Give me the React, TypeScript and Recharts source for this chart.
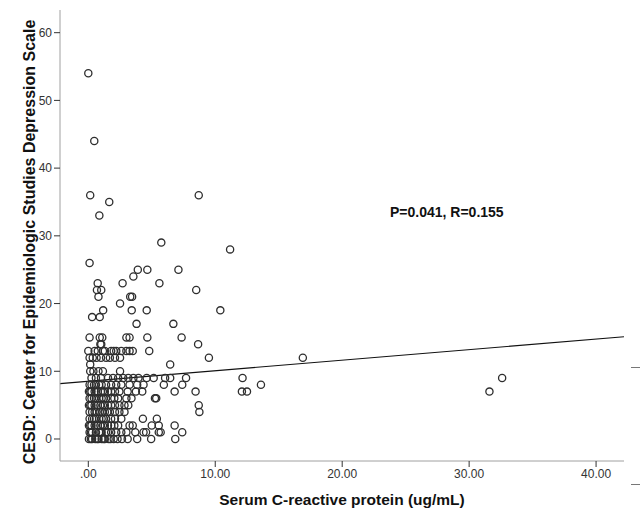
import React from "react";
import { ScatterChart, Scatter, XAxis, YAxis, ReferenceLine } from "recharts";

// CESD score (y) and the serum CRP values (x) of the subjects with that score
const cesdScores = [0, 1, 2, 3, 4, 5, 6, 7, 8, 9, 10, 11, 12, 13, 14, 15, 17, 18, 19, 20, 21, 22, 23, 24, 25, 26, 28, 29, 33, 35, 36, 44, 54];
const crpByScore = [
  [0.05, 0.2, 0.3, 0.55, 0.7, 0.8, 1.05, 1.2, 1.3, 1.6, 1.75, 2.0, 2.3, 2.65, 3.1, 3.85, 4.95, 6.85],
  [0.1, 0.2, 0.3, 0.6, 0.85, 0.95, 1.05, 1.4, 1.55, 1.8, 2.2, 2.6, 3.0, 3.7, 4.35, 4.55, 5.55, 5.7, 7.4],
  [0.05, 0.15, 0.25, 0.5, 0.75, 0.95, 1.15, 1.3, 1.55, 1.8, 2.05, 2.35, 3.25, 3.5, 5.0, 5.55, 6.8],
  [0.1, 0.3, 0.45, 0.6, 0.85, 1.05, 1.2, 1.4, 1.8, 2.1, 2.6, 4.3, 5.4],
  [0.1, 0.3, 0.5, 0.65, 0.9, 1.1, 1.3, 1.5, 1.7, 2.1, 2.45, 2.85, 8.75],
  [0.05, 0.15, 0.25, 0.5, 0.75, 0.95, 1.15, 1.3, 1.55, 1.8, 2.1, 2.45, 2.85, 3.15, 8.7],
  [0.1, 0.25, 0.45, 0.6, 0.85, 1.05, 1.2, 1.4, 1.8, 2.05, 2.35, 3.0, 3.4, 5.25, 5.35],
  [0.05, 0.15, 0.25, 0.5, 0.75, 1.0, 1.15, 1.3, 1.55, 1.8, 2.1, 2.45, 3.1, 3.75, 4.25, 6.8, 8.45, 12.1, 12.5, 31.6],
  [0.1, 0.25, 0.45, 0.6, 0.85, 1.05, 1.4, 1.8, 2.2, 2.6, 3.25, 3.85, 4.35, 5.95, 7.4, 13.6],
  [0.25, 0.6, 1.0, 1.55, 1.95, 2.35, 2.75, 3.15, 3.55, 3.95, 4.6, 5.15, 6.05, 6.45, 7.7, 12.15, 32.6],
  [0.15, 0.4, 0.8, 1.15, 2.5],
  [0.15, 6.45],
  [0.1, 0.35, 0.65, 1.0, 1.4, 1.7, 2.1, 2.5, 9.5, 16.9],
  [0.0, 0.5, 0.75, 1.15, 1.3, 1.8, 2.0, 2.2, 2.6, 3.0, 3.25, 3.5, 4.8],
  [0.95, 1.02, 8.65],
  [0.1, 0.9, 1.1, 3.0, 3.25, 4.65, 7.35],
  [3.8, 6.7],
  [0.3, 0.9],
  [1.17, 3.42, 4.6, 10.4],
  [2.5],
  [0.8, 3.3, 3.45],
  [0.68, 1.02, 8.5],
  [0.74, 2.7, 5.6],
  [3.55],
  [3.9, 4.65, 7.1],
  [0.1],
  [11.17],
  [5.75],
  [0.87],
  [1.65],
  [0.15, 8.7],
  [0.47],
  [0.0],
];

const xTicks = [0, 10, 20, 30, 40];
const yTicks = [0, 10, 20, 30, 40, 50, 60];
const xDomain = [-2.23, 42.2];
const yDomain = [-3.25, 63.35];
const fitIntercept = 8.52;
const fitSlope = 0.156;
const statsText = "P=0.041, R=0.155";
const xTitle = "Serum C-reactive protein (ug/mL)";
const yTitle = "CESD: Center for Epidemiologic Studies Depression Scale";

const points = cesdScores.flatMap((score, i) =>
  crpByScore[i].map((crp) => ({ crp, cesd: score }))
);

const FONT = "'Liberation Sans', Arial, sans-serif";

const OpenCircle = (props: any) => {
  const { cx, cy } = props;
  if (cx == null || cy == null) return <g />;
  return <circle cx={cx} cy={cy} r={3.6} fill="none" stroke="#2e2e2e" strokeWidth={1.3} />;
};

const fmtX = (v: number) => (v === 0 ? ".00" : v.toFixed(2));

export default function App() {
  return (
    <div style={{ position: "absolute", left: 0, top: 0, width: 644, height: 510, background: "#fff", fontFamily: FONT }}>
      <ScatterChart
        width={644}
        height={510}
        margin={{ top: 10, right: 20, left: 0, bottom: 0 }}
      >
        <XAxis
          type="number"
          dataKey="crp"
          domain={xDomain}
          ticks={xTicks}
          tickFormatter={fmtX}
          height={49}
          tickSize={6}
          tickMargin={2}
          axisLine={{ stroke: "#a0a0a0", strokeWidth: 1 }}
          tickLine={{ stroke: "#333", strokeWidth: 1 }}
          tick={{ fill: "#333", fontSize: 12, fontFamily: FONT }}
          allowDataOverflow
          label={(p: any) => {
            const vb = p.viewBox;
            return (
              <text
                x={vb.x + vb.width / 2}
                y={505}
                textAnchor="middle"
                fontFamily={FONT}
                fontSize={15.5}
                fontWeight="bold"
                fill="#111"
              >
                {xTitle}
              </text>
            );
          }}
        />
        <YAxis
          type="number"
          dataKey="cesd"
          domain={yDomain}
          ticks={yTicks}
          width={60}
          tickSize={6}
          tickMargin={2}
          axisLine={{ stroke: "#a0a0a0", strokeWidth: 1 }}
          tickLine={{ stroke: "#333", strokeWidth: 1 }}
          tick={{ fill: "#333", fontSize: 12, fontFamily: FONT }}
          allowDataOverflow
          label={() => {
            const cx = 35;
            const cy = 242;
            return (
              <text
                x={cx}
                y={cy}
                transform={`rotate(-90, ${cx}, ${cy})`}
                textAnchor="middle"
                fontFamily={FONT}
                fontSize={16}
                fontWeight="bold"
                fill="#111"
              >
                {yTitle}
              </text>
            );
          }}
        />
        <Scatter data={points} shape={OpenCircle} isAnimationActive={false} />
        <ReferenceLine
          segment={[
            { x: xDomain[0], y: fitIntercept + fitSlope * xDomain[0] },
            { x: xDomain[1], y: fitIntercept + fitSlope * xDomain[1] },
          ]}
          stroke="#111"
          strokeWidth={1.1}
        />
      </ScatterChart>
      <div
        style={{
          position: "absolute",
          left: 390,
          top: 204,
          fontFamily: FONT,
          fontSize: 14,
          fontWeight: "bold",
          color: "#111",
          lineHeight: "16px",
          whiteSpace: "nowrap",
        }}
      >
        {statsText}
      </div>
      <div style={{ position: "absolute", left: 631, top: 367, width: 9, height: 1, background: "#777" }} />
      <div style={{ position: "absolute", left: 631, top: 484, width: 9, height: 1, background: "#777" }} />
    </div>
  );
}
